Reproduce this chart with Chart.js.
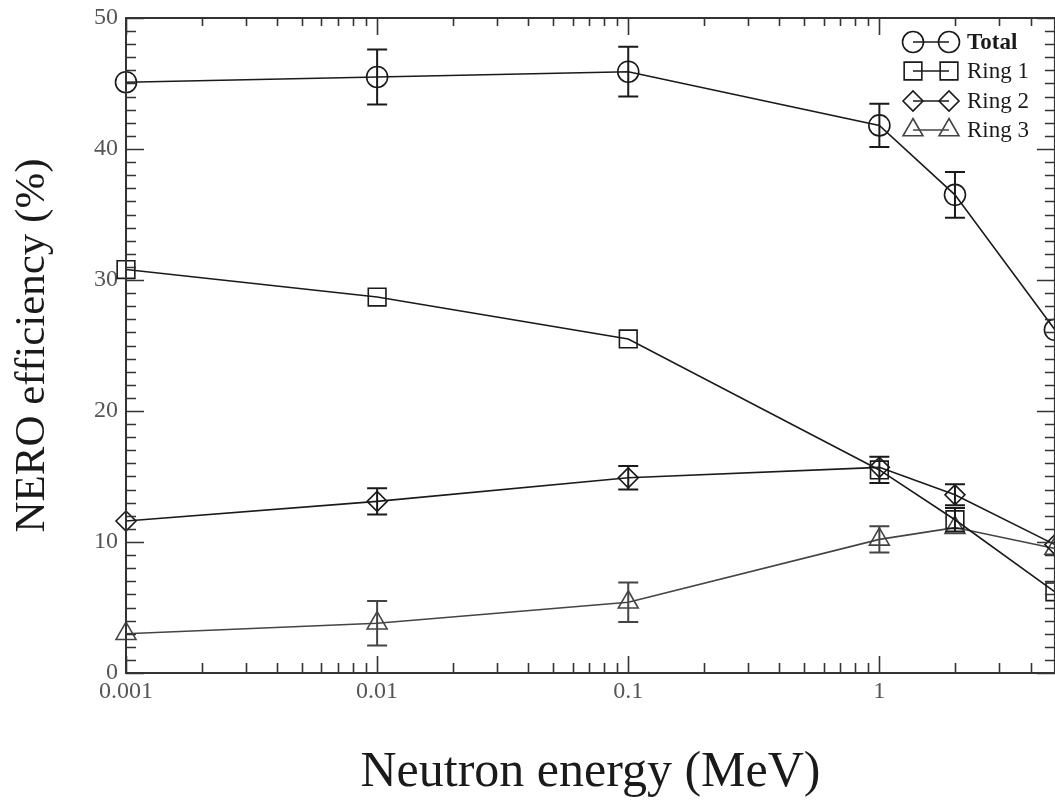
<!DOCTYPE html>
<html>
<head>
<meta charset="utf-8">
<script src="https://cdn.jsdelivr.net/npm/chart.js@4.4.0/dist/chart.umd.min.js"></script>
<style>
    html, body { margin: 0; padding: 0; background: #fff; overflow: hidden; }
    #wrap { position: relative; width: 1069px; height: 803px; }
</style>
</head>
<body>
<div id="wrap"><canvas id="chart"></canvas></div>
<script>
// Values
const energies = [0.001, 0.01, 0.1, 1, 2, 5];
const totalEff = [45.1, 45.5, 45.9, 41.8, 36.5, 26.2];
const totalErr = [0, 2.1, 1.9, 1.65, 1.75, 0];
const ring1Eff = [30.8, 28.7, 25.5, 15.5, 11.7, 6.2];
const ring1Err = [0, 0, 0, 1.0, 0.9, 0];
const ring2Eff = [11.6, 13.1, 14.9, 15.7, 13.6, 9.8];
const ring2Err = [0, 1.0, 0.9, 0, 0.8, 0];
const ring3Eff = [3.0, 3.8, 5.4, 10.2, 11.1, 9.5];
const ring3Err = [0, 1.7, 1.5, 1.0, 0, 0];
const seriesNames = ['Total', 'Ring 1', 'Ring 2', 'Ring 3'];
const xTickValues = [0.001, 0.01, 0.1, 1];
const yTickValues = [0, 10, 20, 30, 40, 50];

const serif = '"Liberation Serif", "Times New Roman", serif';
const ink = '#1a1a1a';

function toPoints(ys) {
    return energies.map((x, i) => ({ x: x, y: ys[i] }));
}

function makeSet(name, ys, errs, style, radius, color) {
    return {
        label: name,
        data: toPoints(ys),
        errors: errs,
        borderColor: color,
        borderWidth: 1.6,
        pointStyle: style,
        pointRadius: radius,
        pointHoverRadius: radius,
        pointBackgroundColor: 'rgba(0,0,0,0)',
        pointBorderColor: color,
        pointBorderWidth: 1.6,
        tension: 0,
        clip: false
    };
}

// Error bars, drawn through the chart scales
const errorBars = {
    id: 'errorBars',
    afterDatasetsDraw(chart) {
        const ctx = chart.ctx;
        const xs = chart.scales.x, ys = chart.scales.y;
        ctx.save();
        chart.data.datasets.forEach(ds => {
            ctx.strokeStyle = ds.borderColor;
            ctx.lineWidth = 2;
            ds.data.forEach((p, i) => {
                const e = ds.errors[i];
                if (!e) return;
                const px = xs.getPixelForValue(p.x);
                const top = ys.getPixelForValue(p.y + e);
                const bot = ys.getPixelForValue(p.y - e);
                ctx.beginPath();
                ctx.moveTo(px, top); ctx.lineTo(px, bot);
                ctx.moveTo(px - 10, top); ctx.lineTo(px + 10, top);
                ctx.moveTo(px - 10, bot); ctx.lineTo(px + 10, bot);
                ctx.stroke();
            });
        });
        ctx.restore();
    }
};

// Frame with inward ticks on all four sides
const frameTicks = {
    id: 'frameTicks',
    afterDraw(chart) {
        const ctx = chart.ctx;
        const a = chart.chartArea;
        const xs = chart.scales.x, ys = chart.scales.y;
        ctx.save();
        ctx.strokeStyle = '#333';
        ctx.lineWidth = 2;
        ctx.strokeRect(a.left, a.top, a.right - a.left, a.bottom - a.top);
        ctx.lineWidth = 1.6;
        ctx.beginPath();
        for (let d = -3; d <= 0; d++) {
            for (let k = 1; k <= 9; k++) {
                const v = k * Math.pow(10, d);
                if (v < xs.min || v > xs.max) continue;
                const px = Math.round(xs.getPixelForValue(v)) + 0.5;
                const len = k === 1 ? 17 : 10;
                ctx.moveTo(px, a.bottom); ctx.lineTo(px, a.bottom - len);
                ctx.moveTo(px, a.top); ctx.lineTo(px, a.top + (k === 1 ? 17 : 8));
            }
        }
        for (let v = 0; v <= 50; v++) {
            const py = Math.round(ys.getPixelForValue(v)) + 0.5;
            const len = v % 10 === 0 ? 18 : 10;
            ctx.moveTo(a.left, py); ctx.lineTo(a.left + len, py);
            ctx.moveTo(a.right, py); ctx.lineTo(a.right - len, py);
        }
        ctx.stroke();
        ctx.restore();
    }
};

// Legend: marker - line - marker, then the name
const legendBox = {
    id: 'legendBox',
    afterDraw(chart) {
        const ctx = chart.ctx;
        const x1 = 913, x2 = 949, tx = 967;
        const rows = [42, 71, 101, 130];
        ctx.save();
        chart.data.datasets.forEach((ds, i) => {
            const y = rows[i];
            ctx.strokeStyle = ds.borderColor;
            ctx.lineWidth = 1.6;
            ctx.beginPath();
            ctx.moveTo(x1, y); ctx.lineTo(x2, y);
            ctx.stroke();
            ctx.fillStyle = 'rgba(0,0,0,0)';
            const opts = { pointStyle: ds.pointStyle, radius: ds.pointRadius, rotation: 0, borderWidth: 1.6 };
            Chart.helpers.drawPoint(ctx, opts, x1, y);
            Chart.helpers.drawPoint(ctx, opts, x2, y);
            ctx.fillStyle = ink;
            ctx.textBaseline = 'middle';
            ctx.font = (i === 0 ? 'bold ' : '') + '23px ' + serif;
            ctx.fillText(ds.label, tx, y + 1);
        });
        ctx.restore();
    }
};

const ctx = document.getElementById('chart').getContext('2d');
const chart = new Chart(ctx, {
    type: 'line',
    data: {
        datasets: [
            makeSet(seriesNames[0], totalEff, totalErr, 'circle', 10.5, ink),
            makeSet(seriesNames[1], ring1Eff, ring1Err, 'rect', 12.5, ink),
            makeSet(seriesNames[2], ring2Eff, ring2Err, 'rectRot', 10, ink),
            makeSet(seriesNames[3], ring3Eff, ring3Err, 'triangle', 11.5, '#444')
        ]
    },
    options: {
        responsive: true,
        maintainAspectRatio: false,
        animation: false,
        layout: { padding: { top: 18, right: 0, left: 0, bottom: 0 } },
        plugins: {
            legend: { display: false },
            tooltip: { enabled: false }
        },
        scales: {
            x: {
                type: 'logarithmic',
                min: 0.001,
                max: 5,
                afterBuildTicks: s => { s.ticks = xTickValues.map(v => ({ value: v })); },
                afterFit: s => { s.height = 130; },
                grid: { display: false, drawTicks: false },
                border: { display: false },
                ticks: {
                    autoSkip: false,
                    maxRotation: 0,
                    padding: 4,
                    color: '#555',
                    font: { family: serif, size: 24 },
                    callback: v => String(v)
                },
                title: {
                    display: true,
                    text: 'Neutron energy (MeV)',
                    color: ink,
                    font: { family: serif, size: 50 },
                    padding: { top: 0, bottom: 0 }
                }
            },
            y: {
                min: 0,
                max: 50,
                afterBuildTicks: s => { s.ticks = yTickValues.map(v => ({ value: v })); },
                afterFit: s => { s.width = 126; },
                grid: { display: false, drawTicks: false },
                border: { display: false },
                ticks: {
                    padding: 8,
                    color: '#555',
                    font: { family: serif, size: 24, lineHeight: 0.6 }
                },
                title: {
                    display: true,
                    text: 'NERO efficiency (%)',
                    color: ink,
                    font: { family: serif, size: 43 },
                    padding: { top: 7, bottom: 0 }
                }
            }
        }
    },
    plugins: [errorBars, frameTicks, legendBox]
});
</script>
</body>
</html>
